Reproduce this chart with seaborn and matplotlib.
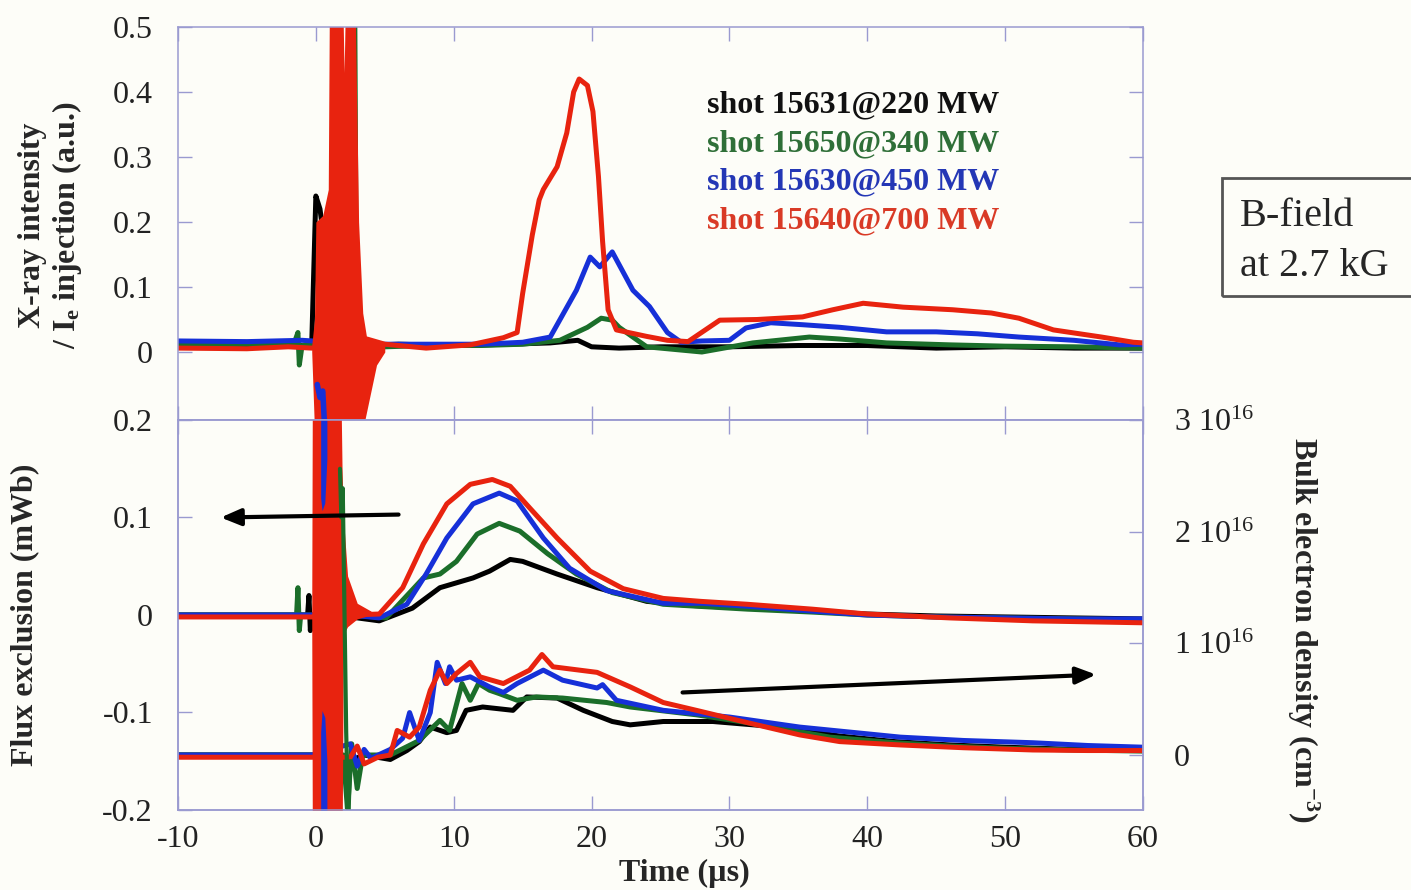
import matplotlib
matplotlib.use("Agg")
import matplotlib.pyplot as plt
from matplotlib.patches import Rectangle
import seaborn as sns

# ---------------- X-ray intensity / Ie injection (a.u.) ----------------
xr_t_black = [-10, -6, -3, -1, -0.3, 0.0, 0.3, 0.6, 1.0, 3.5, 6, 10, 14, 17, 19, 20, 22, 25, 30, 35, 40, 45, 50, 55, 60]
xr_black = [0.012, 0.010, 0.012, 0.010, 0.012, 0.24, 0.22, 0.17, 0.05, 0.010, 0.012, 0.010, 0.012, 0.014, 0.018,
            0.008, 0.006, 0.008, 0.008, 0.010, 0.010, 0.006, 0.008, 0.006, 0.006]

xr_t_green = [-10, -5, -1.6, -1.3, -1.2, -1.0, 3.5, 5, 8, 12, 15, 17.7, 19.7, 20.7, 21.5, 22, 24, 26, 28, 31.7,
              35.8, 38, 41.4, 46, 50, 55, 60]
xr_green = [0.010, 0.012, 0.012, 0.030, -0.020, 0.010, 0.010, 0.008, 0.010, 0.010, 0.012, 0.018, 0.038, 0.052,
            0.049, 0.038, 0.008, 0.004, 0.0, 0.014, 0.023, 0.020, 0.014, 0.011, 0.009, 0.008, 0.006]

xr_t_blue = [-10, -5, -1, 3.5, 8, 12, 15, 17, 18.9, 19.9, 20.6, 21.5, 23, 24.2, 25.5, 26.5, 28, 30, 31.2, 33,
             35.3, 38, 41.4, 45, 48, 51, 55, 58.3, 60]
xr_blue = [0.017, 0.016, 0.018, 0.012, 0.012, 0.012, 0.015, 0.023, 0.095, 0.146, 0.131, 0.154, 0.095, 0.070,
           0.030, 0.015, 0.017, 0.018, 0.037, 0.045, 0.042, 0.038, 0.031, 0.031, 0.028, 0.023, 0.018, 0.011, 0.012]

xr_t_red = [-10, -5, -2, -0.3, 3.7, 5, 8, 11.2, 13.6, 14.6, 15.0, 15.7, 16.2, 16.5, 17.5, 18.2, 18.7, 19.1, 19.7,
            20.1, 20.5, 20.8, 21.2, 21.8, 24, 25.5, 27, 29.3, 32, 35.3, 37.5, 39.7, 42.6, 46.2, 49, 51, 53.5, 57,
            59.3, 60]
xr_red = [0.006, 0.005, 0.008, 0.006, 0.020, 0.012, 0.006, 0.011, 0.022, 0.030, 0.090, 0.180, 0.234, 0.250, 0.285,
          0.337, 0.400, 0.420, 0.410, 0.370, 0.270, 0.170, 0.065, 0.034, 0.024, 0.018, 0.016, 0.049, 0.050, 0.054,
          0.065, 0.075, 0.069, 0.065, 0.060, 0.052, 0.034, 0.023, 0.015, 0.014]

# injection pick-up burst (envelopes of the oscillation)
xr_burst_t = [-0.3, -0.1, 0.0, 0.5, 0.9, 1.0, 1.9, 2.05, 2.2, 2.8, 3.1, 3.4, 3.7, 4.4, 5.0]
xr_burst_hi = [0.01, 0.05, 0.20, 0.21, 0.25, 0.60, 0.60, 0.43, 0.60, 0.60, 0.20, 0.06, 0.02, 0.015, 0.01]
xr_burst_lo = [0.0, -0.12, -0.12, -0.12, -0.12, -0.12, -0.12, -0.12, -0.12, -0.12, -0.12, -0.12, -0.09, -0.02, 0.0]
xr_green_burst_t = [2.1, 2.2, 2.95, 3.1]
xr_green_burst_hi = [0.0, 0.60, 0.60, 0.0]
xr_blue_burst_t = [0.1, 0.3, 0.5, 0.65]
xr_blue_burst = [-0.05, -0.07, -0.06, -0.12]

# ---------------- Flux exclusion (mWb) ----------------
fx_t_black = [-10, -2, -0.6, -0.5, -0.4, -0.3, 2.5, 4.6, 7, 9, 11.4, 12.6, 14.1, 15, 17.5, 20.4, 24, 27, 31.3, 36,
              40, 45, 50, 55, 60]
fx_black = [0.0, 0.0, 0.0, 0.020, -0.016, 0.0, -0.002, -0.006, 0.007, 0.028, 0.038, 0.045, 0.057, 0.055, 0.042,
            0.028, 0.014, 0.010, 0.007, 0.004, 0.001, -0.001, -0.002, -0.003, -0.004]

fx_t_green = [-10, -2, -1.4, -1.3, -1.2, -1.1, -0.3, 2.5, 5.1, 7.8, 9, 10.2, 11.7, 13.3, 14.8, 16.8, 18.9, 21.5,
              25.2, 31.3, 36, 40, 45, 50, 55, 60]
fx_green = [0.0, 0.0, 0.0, 0.028, -0.016, 0.0, 0.0, 0.0, -0.003, 0.038, 0.042, 0.055, 0.083, 0.094, 0.086, 0.063,
            0.042, 0.023, 0.011, 0.006, 0.003, 0.0, -0.002, -0.003, -0.004, -0.005]

fx_t_blue = [-10, -0.3, 2.5, 4.6, 6.6, 8, 9.5, 11.4, 13.3, 14.6, 16.5, 18.4, 21.1, 25.2, 28, 31.3, 36, 40, 45, 50,
             55, 60]
fx_blue = [0.0, 0.0, 0.0, -0.003, 0.011, 0.042, 0.079, 0.114, 0.125, 0.117, 0.079, 0.048, 0.025, 0.012, 0.012,
           0.009, 0.004, 0.0, -0.002, -0.003, -0.004, -0.004]

fx_t_red = [-10, -0.3, 2.5, 4.6, 6.3, 7.8, 9.5, 11.2, 12.8, 14.1, 15.5, 17.5, 19.9, 22.3, 25.2, 27.9, 31.3, 36, 40,
            46, 52, 56, 60]
fx_red = [-0.002, -0.002, 0.0, 0.001, 0.028, 0.073, 0.114, 0.134, 0.139, 0.132, 0.110, 0.079, 0.045, 0.027, 0.017,
          0.014, 0.011, 0.006, 0.001, -0.003, -0.006, -0.007, -0.008]

fx_burst_t = [-0.3, -0.25, 1.8, 1.9, 2.0, 2.3, 3.0, 4.0]
fx_burst_hi = [0.0, 0.25, 0.25, 0.15, 0.10, 0.04, 0.012, 0.004]
fx_burst_lo = [0.0, -0.25, -0.25, -0.25, -0.02, -0.012, -0.004, 0.0]
fx_blue_burst_t = [0.35, 0.45, 0.65, 0.8]
fx_blue_burst_hi = [0.25, 0.25, 0.25, 0.25]
fx_blue_burst_top_lo = [0.12, 0.107, 0.115, 0.16]
fx_blue_burst_bot_hi = [-0.12, -0.098, -0.105, -0.15]
fx_blue_burst_lo = [-0.25, -0.25, -0.25, -0.25]
fx_green_spike_t = [1.75, 1.85, 1.95, 2.2, 2.35, 2.5]
fx_green_spike = [0.15, 0.10, 0.13, -0.12, -0.21, -0.15]

# ---------------- Bulk electron density (1e16 cm^-3) ----------------
ne_t_black = [-10, -0.3, 2.5, 3.5, 5.4, 6.6, 7.5, 8.3, 9.5, 10.2, 10.9, 12.1, 14.3, 15.3, 17.5, 19.4, 21.5, 22.8,
              25.2, 28.8, 33.7, 38, 42, 46, 50, 55, 60]
ne_black = [0.0, 0.0, -0.05, 0.0, -0.04, 0.04, 0.12, 0.25, 0.20, 0.22, 0.40, 0.43, 0.40, 0.52, 0.51, 0.40, 0.30,
            0.27, 0.30, 0.30, 0.25, 0.17, 0.12, 0.09, 0.07, 0.05, 0.04]

ne_t_green = [-10, -0.3, 2.0, 2.3, 2.6, 3.0, 3.4, 5.4, 7.5, 9.0, 9.7, 10.6, 11.2, 11.8, 12.6, 13.3, 14.6, 16.0,
              17.9, 21.1, 22.8, 27.6, 31.3, 37.3, 42, 46, 50, 55, 60]
ne_green = [0.0, 0.0, 0.0, -0.5, 0.1, -0.3, 0.0, 0.0, 0.13, 0.31, 0.22, 0.64, 0.49, 0.64, 0.58, 0.55, 0.49, 0.52,
            0.51, 0.47, 0.43, 0.36, 0.29, 0.16, 0.11, 0.08, 0.06, 0.045, 0.035]

ne_t_blue = [-10, -0.3, 2.5, 3.0, 3.5, 4.0, 5.4, 6.3, 6.8, 7.5, 8.3, 8.8, 9.4, 9.7, 10.2, 11.2, 12.6, 13.6, 14.6,
             16.5, 17.9, 20.4, 20.8, 21.8, 25.2, 30, 35.1, 42.4, 47, 52, 56, 60]
ne_blue = [0.0, 0.0, 0.10, -0.10, 0.05, -0.03, 0.05, 0.15, 0.38, 0.13, 0.38, 0.83, 0.64, 0.79, 0.67, 0.70, 0.61,
           0.56, 0.64, 0.76, 0.67, 0.60, 0.63, 0.49, 0.40, 0.34, 0.25, 0.16, 0.13, 0.11, 0.085, 0.07]

ne_t_red = [-10, -0.3, 2.5, 3.0, 3.5, 4.5, 5.4, 5.9, 6.8, 7.5, 8.3, 9.0, 9.5, 10.2, 11.2, 11.9, 13.6, 15.5, 16.4,
            17.2, 20.4, 22.8, 25.2, 27.6, 31.3, 35.1, 38, 42.4, 47, 52, 56, 60]
ne_red = [-0.02, -0.02, -0.02, 0.08, -0.08, -0.02, 0.0, 0.22, 0.16, 0.25, 0.58, 0.76, 0.64, 0.73, 0.83, 0.70, 0.64,
          0.76, 0.90, 0.79, 0.74, 0.61, 0.47, 0.40, 0.29, 0.18, 0.12, 0.09, 0.065, 0.045, 0.04, 0.04]

# ---------------- labels ----------------
legend_labels = ["shot 15631@220 MW", "shot 15650@340 MW", "shot 15630@450 MW", "shot 15640@700 MW"]
legend_colors = ["#111111", "#2f6f38", "#2437b5", "#d93a26"]
x_ticks = [-10, 0, 10, 20, 30, 40, 50, 60]
xr_ticks = [0, 0.1, 0.2, 0.3, 0.4, 0.5]
xr_tick_labels = ["0", "0.1", "0.2", "0.3", "0.4", "0.5"]
fx_ticks = [-0.2, -0.1, 0, 0.1, 0.2]
fx_tick_labels = ["-0.2", "-0.1", "0", "0.1", "0.2"]
ne_ticks = [0, 1, 2, 3]
ne_tick_labels = ["0", "1 10$^{16}$", "2 10$^{16}$", "3 10$^{16}$"]

# ---------------- style ----------------
sns.set_theme(style="ticks")
plt.rcParams["font.family"] = ["Liberation Serif", "DejaVu Serif"]
plt.rcParams["mathtext.fontset"] = "custom"
plt.rcParams["mathtext.rm"] = "Liberation Serif"
plt.rcParams["mathtext.it"] = "Liberation Serif:italic"
plt.rcParams["mathtext.bf"] = "Liberation Serif:bold"
plt.rcParams["axes.unicode_minus"] = False

BG = "#fdfdf8"
SPINE = "#9a9ad0"
C_BLACK, C_GREEN, C_BLUE, C_RED = "#000000", "#1b6e2a", "#1630d8", "#e8230f"
LW = 3.6
FS = 23

fig = plt.figure(figsize=(14.11, 8.90), dpi=100, facecolor=BG)
ax_x = fig.add_axes([0.12615, 0.52809, 0.68391, 0.44157])
ax_f = fig.add_axes([0.12615, 0.08989, 0.68391, 0.43820])
ax_n = ax_f.twinx()
ax_f.set_zorder(2)
ax_n.set_zorder(1)
ax_f.patch.set_visible(False)
ax_x.set_facecolor(BG)
ax_n.set_facecolor(BG)
ax_n.patch.set_visible(True)


def trace(ax, t, v, color, lw=LW, z=2):
    sns.lineplot(x=t, y=v, ax=ax, color=color, lw=lw, estimator=None, sort=False, zorder=z,
                 solid_joinstyle="round", solid_capstyle="round")


# X-ray panel
trace(ax_x, xr_t_black, xr_black, C_BLACK)
trace(ax_x, xr_t_green, xr_green, C_GREEN)
trace(ax_x, xr_t_blue, xr_blue, C_BLUE)
trace(ax_x, xr_t_red, xr_red, C_RED)
ax_x.fill_between(xr_green_burst_t, 0, xr_green_burst_hi, color=C_GREEN, lw=0, zorder=2.4)
ax_x.fill_between(xr_burst_t, xr_burst_lo, xr_burst_hi, color=C_RED, lw=0, zorder=2.6)
trace(ax_x, xr_blue_burst_t, xr_blue_burst, C_BLUE, lw=4, z=2.8)

# density traces (right axis, drawn underneath)
trace(ax_n, ne_t_black, ne_black, C_BLACK)
trace(ax_n, ne_t_green, ne_green, C_GREEN)
trace(ax_n, ne_t_blue, ne_blue, C_BLUE)
trace(ax_n, ne_t_red, ne_red, C_RED)

# flux traces (left axis)
trace(ax_f, fx_t_black, fx_black, C_BLACK)
trace(ax_f, fx_t_green, fx_green, C_GREEN)
trace(ax_f, fx_t_blue, fx_blue, C_BLUE)
trace(ax_f, fx_t_red, fx_red, C_RED)
ax_f.fill_between(fx_burst_t, fx_burst_lo, fx_burst_hi, color=C_RED, lw=0, zorder=2.6)
ax_f.fill_between(fx_blue_burst_t, fx_blue_burst_top_lo, fx_blue_burst_hi, color=C_BLUE, lw=0, zorder=2.7)
ax_f.fill_between(fx_blue_burst_t, fx_blue_burst_lo, fx_blue_burst_bot_hi, color=C_BLUE, lw=0, zorder=2.7)
trace(ax_f, fx_green_spike_t, fx_green_spike, C_GREEN, lw=3, z=2.8)

# limits and ticks
ax_x.set_xlim(-10, 60)
ax_x.set_ylim(-0.1046, 0.5)
ax_f.set_xlim(-10, 60)
ax_f.set_ylim(-0.2, 0.2)
ax_n.set_ylim(-0.4925, 3.0)

for ax in (ax_x, ax_f, ax_n):
    for s in ax.spines.values():
        s.set_color(SPINE)
        s.set_linewidth(1.1)
        s.set_zorder(5)
    ax.set_xlabel("")
    ax.set_ylabel("")

ax_x.set_xticks(x_ticks)
ax_x.set_yticks(xr_ticks)
ax_x.set_yticklabels(xr_tick_labels)
ax_x.tick_params(axis="both", direction="in", length=10, width=1, color=SPINE, top=True, right=True,
                 labelbottom=False, labelsize=FS, pad=18, labelcolor="#222222")

ax_f.set_xticks(x_ticks)
ax_f.set_xticklabels([str(v) for v in x_ticks])
ax_f.set_yticks(fx_ticks)
ax_f.set_yticklabels(fx_tick_labels)
ax_f.tick_params(axis="both", direction="in", length=10, width=1, color=SPINE, top=True, right=False,
                 labelsize=FS, labelcolor="#222222")
ax_f.tick_params(axis="y", pad=18)
ax_f.tick_params(axis="x", pad=11)

ax_n.set_yticks(ne_ticks)
ax_n.set_yticklabels(ne_tick_labels)
ax_n.tick_params(axis="y", direction="in", length=10, width=1, color=SPINE, labelsize=FS, pad=22,
                 labelcolor="#222222")

# legend as coloured text
for i, (lab, col) in enumerate(zip(legend_labels, legend_colors)):
    ax_x.text(28.4, 0.380 - i * 0.0595, lab, color=col, fontsize=FS, fontweight="bold", va="center", ha="left")

# arrows pointing at the relevant axis
arrow_style = "-|>,head_length=1.0,head_width=0.42"
ax_f.annotate("", xy=(-6.9, 0.100), xytext=(6.0, 0.103),
              arrowprops=dict(arrowstyle=arrow_style, lw=3, color="black", shrinkA=0, shrinkB=0))
ax_n.annotate("", xy=(56.6, 0.72), xytext=(26.6, 0.56),
              arrowprops=dict(arrowstyle=arrow_style, lw=3, color="black", shrinkA=0, shrinkB=0))

# axis titles
fig.text(51 / 1411, 1 - 225 / 890, "X-ray intensity\n/ I$_\\mathbf{e}$ injection (a.u.)", rotation=90,
         ha="center", va="center", fontsize=FS, fontweight="bold", linespacing=1.1, multialignment="center")
fig.text(25 / 1411, 1 - 615 / 890, "Flux exclusion (mWb)", rotation=90, ha="center", va="center",
         fontsize=FS, fontweight="bold")
fig.text(1303 / 1411, 1 - 630 / 890, "Bulk electron density (cm$^\\mathbf{-3}$)", rotation=270, ha="center",
         va="center", fontsize=FS, fontweight="bold")
fig.text(684 / 1411, 1 - 873 / 890, "Time (µs)", ha="center", va="center", fontsize=FS, fontweight="bold")

# B-field annotation box
fig.patches.append(Rectangle((1222 / 1411, 1 - 296 / 890), 0.2, 118 / 890, transform=fig.transFigure,
                             fill=False, edgecolor="#555555", lw=2))
fig.text(1240 / 1411, 1 - 217 / 890, "B-field", ha="left", va="center", fontsize=29)
fig.text(1240 / 1411, 1 - 266 / 890, "at 2.7 kG", ha="left", va="center", fontsize=29)

fig.savefig("out.png", dpi=100, facecolor=BG)
